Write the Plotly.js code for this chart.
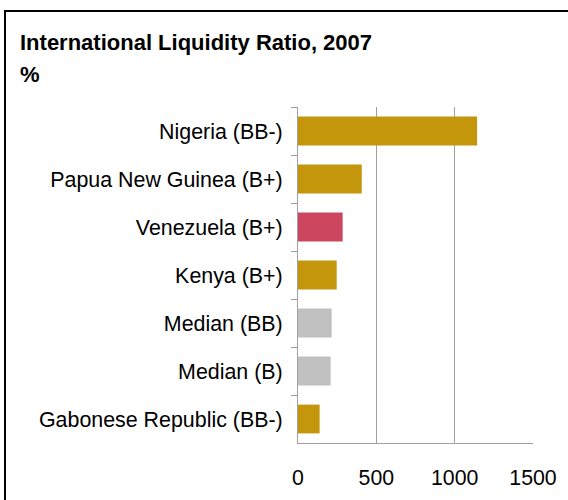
<!DOCTYPE html>
<html>
<head>
<meta charset="utf-8">
<script src="https://cdn.plot.ly/plotly-3.0.1.min.js"></script>
<style>
  html, body { margin: 0; padding: 0; background: #fff; }
  #wrap { position: relative; width: 568px; height: 500px; overflow: hidden; }
  #chart { position: absolute; left: 0; top: 0; width: 568px; height: 500px; }
  #frame { position: absolute; left: 4px; top: 10px; width: 600px; height: 600px;
           border-left: 2px solid #000; border-top: 2px solid #000; pointer-events: none; }
</style>
</head>
<body>
<div id="wrap">
  <div id="chart"></div>
  <div id="frame"></div>
</div>
<script>
const categories = [
  "Nigeria (BB-)",
  "Papua New Guinea (B+)",
  "Venezuela (B+)",
  "Kenya (B+)",
  "Median (BB)",
  "Median (B)",
  "Gabonese Republic (BB-)"
];
const values = [1143, 407, 285, 247, 215, 208, 138];
const barColors = ["#C4960C", "#C4960C", "#CC4660", "#C4960C", "#C0C0C0", "#C0C0C0", "#C4960C"];
const titleLine1 = "International Liquidity Ratio, 2007";
const titleLine2 = "%";
const xTicks = [0, 500, 1000, 1500];

const FONT = "Liberation Sans, Arial, sans-serif";

const data = [{
  type: "bar",
  orientation: "h",
  x: values,
  y: categories,
  marker: { color: barColors, line: { width: 0 } },
  hoverinfo: "x+y"
}];

const layout = {
  width: 568,
  height: 500,
  margin: { l: 298, r: 35, t: 107, b: 57, pad: 0 },
  paper_bgcolor: "rgba(0,0,0,0)",
  plot_bgcolor: "rgba(0,0,0,0)",
  showlegend: false,
  bargap: 0.4,
  font: { family: FONT, size: 21, color: "#000" },
  xaxis: {
    range: [0, 1500],
    tickmode: "array",
    tickvals: xTicks,
    ticktext: xTicks.map(String),
    showgrid: true,
    gridcolor: "#A0A0A0",
    gridwidth: 1,
    zeroline: false,
    showline: true,
    linecolor: "#A0A0A0",
    linewidth: 1,
    ticks: "",
    ticklabelstandoff: 15,
    tickfont: { family: FONT, size: 21.3, color: "#000" },
    fixedrange: true
  },
  yaxis: {
    type: "category",
    autorange: "reversed",
    tickson: "boundaries",
    ticks: "outside",
    ticklen: 6,
    tickcolor: "#A0A0A0",
    tickwidth: 1,
    showline: true,
    linecolor: "#A0A0A0",
    linewidth: 1,
    showgrid: false,
    zeroline: false,
    ticklabelstandoff: 10,
    tickfont: { family: FONT, size: 21.4, color: "#000" },
    fixedrange: true
  },
  annotations: [
    {
      text: "<b>" + titleLine1 + "</b>",
      xref: "paper", yref: "paper",
      x: (18 - 298) / 235, y: (443 - 42) / 336,
      xanchor: "left", yanchor: "middle",
      showarrow: false,
      font: { family: FONT, size: 22, color: "#000" }
    },
    {
      text: "<b>" + titleLine2 + "</b>",
      xref: "paper", yref: "paper",
      x: (18 - 298) / 235, y: (443 - 75) / 336,
      xanchor: "left", yanchor: "middle",
      showarrow: false,
      font: { family: FONT, size: 22, color: "#000" }
    }
  ]
};

Plotly.newPlot("chart", data, layout, { staticPlot: true, displayModeBar: false });
</script>
</body>
</html>
